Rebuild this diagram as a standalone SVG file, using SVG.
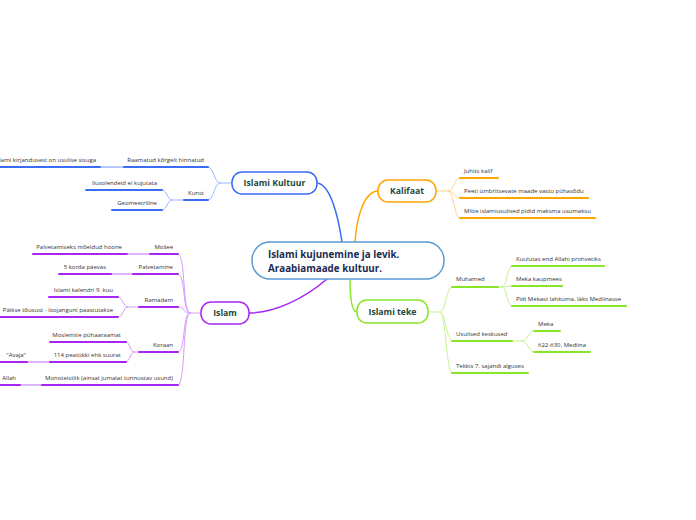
<svg xmlns="http://www.w3.org/2000/svg" width="696" height="520" viewBox="0 0 696 520">
<style>
.lbl{font-family:"Open Sans","Noto Sans","Liberation Sans",sans-serif;font-size:6px;fill:#333}
.e{text-anchor:end}
.main{font-family:"Open Sans","Noto Sans","Liberation Sans",sans-serif;font-weight:bold;font-size:8.7px;fill:#1b4a3c;text-anchor:middle}
.root{font-family:"Open Sans","Noto Sans","Liberation Sans",sans-serif;font-weight:bold;font-size:9.8px;fill:#1c2a4f}
.c{fill:none;stroke-linecap:round}
.bl{stroke:#3a6cf4}.blt{stroke:#9db7ff}
.or{stroke:#ffa500}.ort{stroke:#ffd38a}
.gr{stroke:#88e52a}.grt{stroke:#c6f392}
.pu{stroke:#a826f2}.put{stroke:#d49cfa}
.u{stroke-width:2}.t{stroke-width:1}.m{stroke-width:1.5}
</style>
<g id="connectors">
<path class="c bl m" d="M342,242 C338,215 330,184 317,183"/>
<path class="c or m" d="M355,242 C357,212 366,191 378,191"/>
<path class="c gr m" d="M350,279 C350,300 352,312 357,312"/>
<path class="c pu m" d="M327,279 C305,298 275,313 249,313"/>
<path class="c blt t" d="M232,183 L220,183 M220,183 C214,183 214,167 208,167 M220,183 C214,183 214,200 208,200"/>
<path class="c blt t" d="M184,200 L172,200 M172,200 C167,200 167,190 162,190 M172,200 C167,200 167,210 162,210"/>
<path class="c blt m" d="M124,167 L100,167"/>
<path class="c ort t" d="M436,191 L448,191 M448,191 C454,191 454,178 460,178 M448,191 C454,191 454,198 460,198 M448,191 C454,191 454,218 460,218"/>
<path class="c grt t" d="M428,312 L440,312 M440,312 C446,312 446,287 452,287 M440,312 C446,312 446,340 452,340 M440,312 C446,312 446,373 452,373"/>
<path class="c grt t" d="M498,287 L502,287 M502,287 C507,287 507,266 512,266 M502,287 C507,287 507,286 512,286 M502,287 C507,287 507,306 512,306"/>
<path class="c grt t" d="M512,341 L522,341 M522,341 C528,341 528,331 534,331 M522,341 C528,341 528,352 534,352"/>
<path class="c put t" d="M201,313 L190,313 M190,313 C182,313 186,254 178,254 M190,313 C182,313 186,274 178,274 M190,313 C182,313 186,307 178,307 M190,313 C182,313 186,352 178,352 M190,313 C182,313 186,385 178,385"/>
<path class="c put t" d="M139,307 L128,307 M128,307 C123,307 123,297 118,297 M128,307 C123,307 123,317 118,317"/>
<path class="c put t" d="M139,352 L134,352 M134,352 C130,352 130,342 126,342 M134,352 C130,352 130,362 126,362"/>
<path class="c put m" d="M127,254 L150,254 M111,274 L133,274 M27,362 L50,362 M20,385 L42,385"/>
</g>
<g id="root">
<rect x="252" y="242" width="192" height="37" rx="18" fill="#fff" stroke="#5b9bd5" stroke-width="1.5"/>
<text class="root" x="268" y="258">Islami kujunemine ja levik.</text>
<text class="root" x="268" y="272">Araabiamaade kultuur.</text>
</g>
<g id="islami-kultuur">
<rect x="232" y="172" width="85" height="22" rx="10" fill="#fff" stroke="#3a6cf4" stroke-width="1.5"/>
<text class="main" x="274.5" y="186">Islami Kultuur</text>
</g>
<g id="raamatud"><path class="c bl u" d="M124,167 L208,167"/><text class="lbl e" x="204" y="162">Raamatud kõrgelt hinnatud</text></g>
<g id="kirjandus"><path class="c bl u" d="M0,167 L100,167"/><text class="lbl e" x="96" y="162">Islami kirjandusest on usulise sisuga</text></g>
<g id="kunst"><path class="c bl u" d="M184,200 L208,200"/><text class="lbl e" x="204" y="195">Kunst</text></g>
<g id="ilusolendeid"><path class="c bl u" d="M86,190 L162,190"/><text class="lbl e" x="157" y="185">Ilusolendeid ei kujutata</text></g>
<g id="geomeetriline"><path class="c bl u" d="M112,210 L162,210"/><text class="lbl e" x="157" y="205">Geomeetriline</text></g>
<g id="kalifaat">
<rect x="378" y="180" width="58" height="22" rx="10" fill="#fff" stroke="#ffa500" stroke-width="1.5"/>
<text class="main" x="407" y="194">Kalifaat</text>
</g>
<g id="kalif"><path class="c or u" d="M460,178 L498,178"/><text class="lbl" x="464" y="173">Juhits kalif</text></g>
<g id="pyhasoda"><path class="c or u" d="M460,198 L588,198"/><text class="lbl" x="464" y="193">Peeti ümbritsevate maade vastu pühasõdu</text></g>
<g id="usumaks"><path class="c or u" d="M460,218 L595,218"/><text class="lbl" x="464" y="213">Mitte islamiusulised pidid maksma usumaksu</text></g>
<g id="islami-teke">
<rect x="357" y="300" width="71" height="23" rx="10" fill="#fff" stroke="#88e52a" stroke-width="1.5"/>
<text class="main" x="392.5" y="315">Islami teke</text>
</g>
<g id="muhamed"><path class="c gr u" d="M452,287 L498,287"/><text class="lbl" x="456" y="281">Muhamed</text></g>
<g id="kuulutas"><path class="c gr u" d="M512,266 L604,266"/><text class="lbl" x="516" y="261">Kuulutas end Allahi prohvetiks</text></g>
<g id="kaupmees"><path class="c gr u" d="M512,286 L562,286"/><text class="lbl" x="516" y="281">Meka kaupmees</text></g>
<g id="mediinasse"><path class="c gr u" d="M512,306 L626,306"/><text class="lbl" x="516" y="301">Pidi Mekast lahkuma, läks Mediinasse</text></g>
<g id="keskused"><path class="c gr u" d="M452,341 L512,341"/><text class="lbl" x="456" y="336">Usulised keskused</text></g>
<g id="meka"><path class="c gr u" d="M534,331 L560,331"/><text class="lbl" x="538" y="326">Meka</text></g>
<g id="mediina"><path class="c gr u" d="M534,352 L590,352"/><text class="lbl" x="538" y="347">622-630. Mediina</text></g>
<g id="tekkis"><path class="c gr u" d="M452,373 L528,373"/><text class="lbl" x="456" y="368">Tekkis 7. sajandi alguses</text></g>
<g id="islam">
<rect x="201" y="302" width="48" height="22" rx="10" fill="#fff" stroke="#a826f2" stroke-width="1.5"/>
<text class="main" x="225" y="316">Islam</text>
</g>
<g id="mosee"><path class="c pu u" d="M150,254 L178,254"/><text class="lbl e" x="173" y="249">Mošee</text></g>
<g id="hoone"><path class="c pu u" d="M33,254 L127,254"/><text class="lbl e" x="122" y="249">Palvetamiseks mõeldud hoone</text></g>
<g id="palvetamine"><path class="c pu u" d="M133,274 L178,274"/><text class="lbl e" x="173" y="269">Palvetamine</text></g>
<g id="korda"><path class="c pu u" d="M59,274 L111,274"/><text class="lbl e" x="106" y="269">5 korda päevas</text></g>
<g id="ramadam"><path class="c pu u" d="M139,307 L178,307"/><text class="lbl e" x="173" y="302">Ramadam</text></g>
<g id="kalender"><path class="c pu u" d="M49,297 L118,297"/><text class="lbl e" x="113" y="292">Islami kalendri 9. kuu</text></g>
<g id="paast"><path class="c pu u" d="M0,317 L118,317"/><text class="lbl e" x="113" y="312">Päikse tõusust - loojanguni paastutakse</text></g>
<g id="koraan"><path class="c pu u" d="M139,352 L178,352"/><text class="lbl e" x="173" y="347">Koraan</text></g>
<g id="pyharaamat"><path class="c pu u" d="M50,342 L126,342"/><text class="lbl e" x="121" y="337">Moslemite pühaaraamat</text></g>
<g id="suurat"><path class="c pu u" d="M50,362 L126,362"/><text class="lbl e" x="121" y="357">114 peatükki ehk suurat</text></g>
<g id="avaja"><path class="c pu u" d="M0,362 L27,362"/><text class="lbl e" x="26" y="357">"Avaja"</text></g>
<g id="monoteistlik"><path class="c pu u" d="M42,385 L178,385"/><text class="lbl e" x="173" y="380">Monoteistlik (ainsat jumalat tunnustav usund)</text></g>
<g id="allah"><path class="c pu u" d="M0,385 L20,385"/><text class="lbl e" x="16" y="380">Allah</text></g>
</svg>
